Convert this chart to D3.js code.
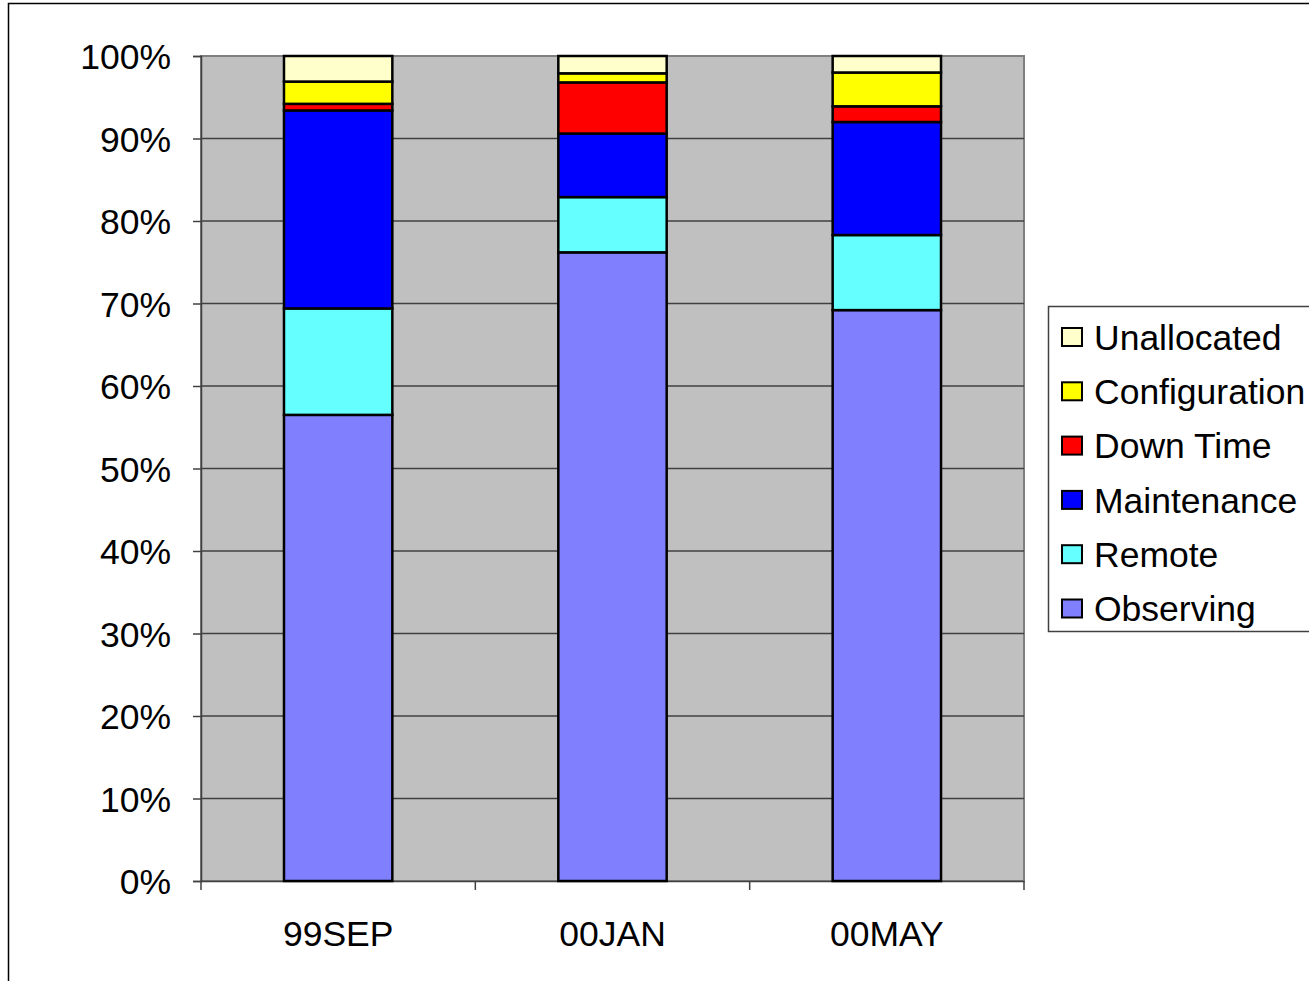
<!DOCTYPE html>
<html><head><meta charset="utf-8">
<script src="https://cdn.jsdelivr.net/npm/d3@7"></script>
<style>body{margin:0;background:#fff;}svg{display:block;font-family:Arial,"Liberation Sans",sans-serif;}</style>
</head><body>
<svg id="c" width="1309" height="981"></svg>
<script>
const categories = ["99SEP", "00JAN", "00MAY"];
const seriesNames = ["Observing", "Remote", "Maintenance", "Down Time", "Configuration", "Unallocated"];
const observing     = [56.5, 76.2, 69.2];
const remote        = [12.9, 6.7, 9.1];
const maintenance   = [24.0, 7.7, 13.7];
const downTime      = [0.8, 6.2, 1.9];
const configuration = [2.7, 1.1, 4.1];
const unallocated   = [3.1, 2.1, 2.0];
const yTicks = [0, 10, 20, 30, 40, 50, 60, 70, 80, 90, 100];
const colors = ["#8080FF", "#66FFFF", "#0000FF", "#FF0000", "#FFFF00", "#FFFFCC"];

const seriesVals = [observing, remote, maintenance, downTime, configuration, unallocated];
const table = categories.map((c, i) => {
  const o = {cat: c};
  seriesNames.forEach((s, j) => o[s] = seriesVals[j][i]);
  return o;
});

const svg = d3.select("#c");
const L = 201, R = 1024, T = 56, B = 881;
const FS = 35.5;

// outer border
svg.append("path").attr("d", "M8.5,981 L8.5,3.5 L1309,3.5").attr("fill", "none").attr("stroke", "#000").attr("stroke-width", 1.5);

const x = d3.scaleBand().domain(categories).range([L, R]).paddingInner(0).paddingOuter(0);
const y = d3.scaleLinear().domain([0, 100]).range([B, T]);

// plot background
svg.append("rect").attr("x", L).attr("y", T).attr("width", R - L).attr("height", B - T)
  .attr("fill", "#C0C0C0").attr("stroke", "#808080").attr("stroke-width", 2);

// gridlines
svg.append("g").selectAll("line").data(yTicks.filter(t => t > 0 && t < 100)).join("line")
  .attr("x1", L).attr("x2", R).attr("y1", d => y(d)).attr("y2", d => y(d))
  .attr("stroke", "#404040").attr("stroke-width", 1.5);

// y axis
const yAxis = d3.axisLeft(y).tickValues(yTicks).tickFormat(d => d + "%").tickSize(8).tickPadding(22);
const gy = svg.append("g").attr("transform", `translate(${L},0)`).call(yAxis);
gy.select(".domain").attr("stroke", "#404040").attr("stroke-width", 1.5);
gy.selectAll(".tick line").attr("stroke", "#404040").attr("stroke-width", 1.5);
gy.selectAll("text").attr("font-size", FS).attr("fill", "#000").attr("font-family", "Arial, 'Liberation Sans', sans-serif").attr("dy", "0.36em");

// x axis
const xAxis = d3.axisBottom(x).tickSize(0).tickPadding(40);
const gx = svg.append("g").attr("transform", `translate(0,${B})`).call(xAxis);
gx.select(".domain").attr("stroke", "#404040").attr("stroke-width", 1.5);
gx.selectAll("text").attr("font-size", FS).attr("fill", "#000").attr("font-family", "Arial, 'Liberation Sans', sans-serif");
// category boundary ticks
const bounds = categories.map(c => x(c)).concat([R]);
svg.append("g").selectAll("line").data(bounds).join("line")
  .attr("x1", d => d).attr("x2", d => d).attr("y1", B).attr("y2", B + 9)
  .attr("stroke", "#404040").attr("stroke-width", 1.5);

// stacked bars
const stack = d3.stack().keys(seriesNames)(table);
const bw = x.bandwidth() * 0.395;
svg.append("g").selectAll("g").data(stack).join("g")
  .attr("fill", (d, i) => colors[i])
  .selectAll("rect").data(d => d).join("rect")
  .attr("x", d => x(d.data.cat) + (x.bandwidth() - bw) / 2)
  .attr("width", bw)
  .attr("y", d => y(d[1]))
  .attr("height", d => y(d[0]) - y(d[1]))
  .attr("stroke", "#000").attr("stroke-width", 2.5);

// legend
const lg = svg.append("g");
lg.append("rect").attr("x", 1048.5).attr("y", 306.5).attr("width", 270).attr("height", 325)
  .attr("fill", "#fff").attr("stroke", "#404040").attr("stroke-width", 1.5);
const legendOrder = seriesNames.slice().reverse();
const items = lg.selectAll("g.item").data(legendOrder).join("g").attr("class", "item")
  .attr("transform", (d, i) => `translate(1062,${337 + i * 54.3})`);
items.append("rect").attr("x", 0).attr("y", -9).attr("width", 20).attr("height", 18)
  .attr("fill", d => colors[seriesNames.indexOf(d)]).attr("stroke", "#000").attr("stroke-width", 2);
items.append("text").attr("x", 32).attr("y", 0).attr("dy", "0.36em")
  .attr("font-size", FS).attr("fill", "#000").text(d => d);
</script>
</body></html>
